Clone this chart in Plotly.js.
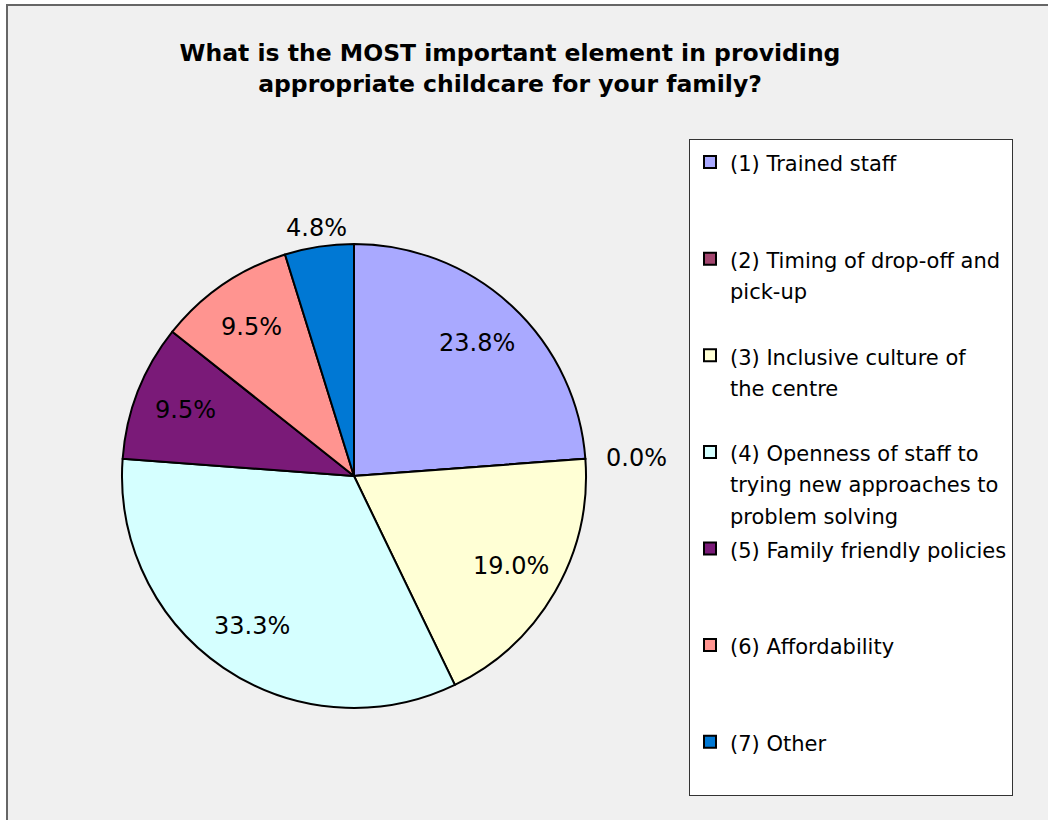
<!DOCTYPE html>
<html>
<head>
<meta charset="utf-8">
<script src="https://cdn.plot.ly/plotly-3.0.1.min.js"></script>
<style>html,body{margin:0;padding:0;background:#fff;}#chart{width:1048px;height:820px;}</style>
</head>
<body>
<div id="chart"></div>
<script>
const categories = [
  "(1) Trained staff",
  "(2) Timing of drop-off and<br>pick-up",
  "(3) Inclusive culture of<br>the centre",
  "(4) Openness of staff to<br>trying new approaches to<br>problem solving",
  "(5) Family friendly policies",
  "(6) Affordability",
  "(7) Other"
];
const percentValues = [23.8, 0.0, 19.0, 33.3, 9.5, 9.5, 4.8];
const sliceColors = ["#a9a9ff", "#a3466f", "#ffffd5", "#d5ffff", "#7a1a78", "#ff9490", "#0078d4"];
const labelOutside = [false, true, false, false, false, false, true];

const W = 1048, H = 820;
const pieCx = 354, pieCy = 476, pieR = 232; // pixel geometry of the pie domain

// legend labels: rendered at 21px, padded to equal line count for even spacing
function padLines(s, n) {
  const k = s.split("<br>").length;
  let out = s;
  for (let i = k; i < n; i++) out += "<br> ";
  return out;
}
const legendLabels = categories.map((c, i) =>
  '<span style="font-size:21px">' + padLines(c, i === categories.length - 1 ? 2 : 3) + '</span>');

const trace = {
  type: "pie",
  labels: legendLabels,
  values: percentValues,
  sort: false,
  direction: "clockwise",
  rotation: 0,
  marker: { colors: sliceColors, line: { color: "#000", width: 2 } },
  textinfo: "none",
  domain: { x: [(pieCx - pieR) / W, (pieCx + pieR) / W], y: [(H - pieCy - pieR) / H, (H - pieCy + pieR) / H] },
  hovertemplate: "%{value:.1f}%<extra></extra>",
  showlegend: true
};

// percentage labels placed at each slice's mid-angle
const total = percentValues.reduce((a, b) => a + b, 0);
let cum = 0;
const annotations = percentValues.map((v, i) => {
  const mid = (cum + v / 2) / total * 2 * Math.PI;
  cum += v;
  const k = labelOutside[i] ? 1.08 : 0.78;
  const s = Math.sin(mid), c = Math.cos(mid);
  let xanchor = "center";
  if (labelOutside[i]) xanchor = s > 0.3 ? "left" : (s < -0.3 ? "right" : "center");
  return {
    xref: "paper", yref: "paper",
    x: (pieCx + k * pieR * s) / W,
    y: (H - pieCy + k * pieR * c) / H,
    xanchor: xanchor, yanchor: "middle",
    text: v.toFixed(1) + "%",
    showarrow: false,
    font: { family: "DejaVu Sans", size: 24, color: "#000" }
  };
});

const layout = {
  width: W, height: H,
  margin: { l: 0, r: 0, t: 0, b: 0 },
  paper_bgcolor: "#ffffff",
  font: { family: "DejaVu Sans", color: "#000" },
  title: {
    text: "<b>What is the MOST important element in providing<br>appropriate childcare for your family?</b>",
    font: { family: "DejaVu Sans", size: 23.5, color: "#000" },
    x: 510 / W, xanchor: "center",
    y: 1 - 61 / H, yanchor: "middle", yref: "container"
  },
  legend: {
    x: 689 / W, xanchor: "left",
    y: 1 - 139 / H, yanchor: "top",
    bgcolor: "#ffffff", bordercolor: "#333333", borderwidth: 1,
    font: { family: "DejaVu Sans", size: 24, color: "#000" },
    valign: "top",
    traceorder: "normal"
  },
  annotations: annotations,
  shapes: [{
    type: "rect", xref: "paper", yref: "paper", layer: "below",
    x0: 7 / W, x1: 1.01, y0: -0.01, y1: 1 - 5 / H,
    fillcolor: "#f0f0f0", line: { color: "#666666", width: 2 }
  }]
};

Plotly.newPlot("chart", [trace], layout, { displayModeBar: false });
</script>
</body>
</html>
